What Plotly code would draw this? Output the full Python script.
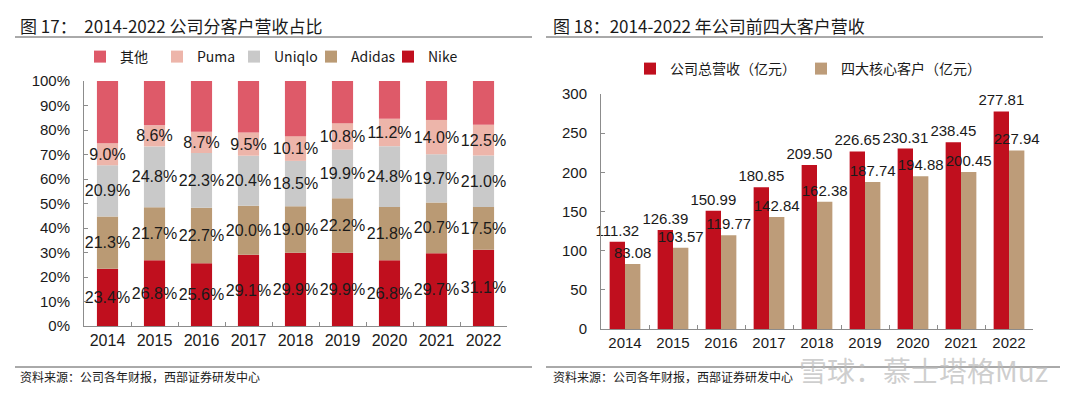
import plotly.graph_objects as go

years = ["2014", "2015", "2016", "2017", "2018", "2019", "2020", "2021", "2022"]

# Figure 17: share of revenue by customer (%)
nike = [23.4, 26.8, 25.6, 29.1, 29.9, 29.9, 26.8, 29.7, 31.1]
adidas = [21.3, 21.7, 22.7, 20.0, 19.0, 22.2, 21.8, 20.7, 17.5]
uniqlo = [20.9, 24.8, 22.3, 20.4, 18.5, 19.9, 24.8, 19.7, 21.0]
puma = [9.0, 8.6, 8.7, 9.5, 10.1, 10.8, 11.2, 14.0, 12.5]
others = [25.4, 18.1, 20.7, 21.0, 22.5, 17.2, 15.4, 15.9, 17.9]

# Figure 18: revenue (100m CNY)
total_rev = [111.32, 126.39, 150.99, 180.85, 209.50, 226.65, 230.31, 238.45, 277.81]
top4_rev = [83.08, 103.57, 119.77, 142.84, 162.38, 187.74, 194.88, 200.45, 227.94]

C_NIKE = "#C00F1E"
C_ADIDAS = "#BA9A74"
C_UNIQLO = "#C9C9C9"
C_PUMA = "#EDB5AA"
C_OTHER = "#DE5A69"
C_TOP4 = "#BD9C79"

FONT = "Liberation Sans, Arial, Noto Sans CJK SC, sans-serif"
CJK = "Noto Sans CJK SC, Liberation Sans, sans-serif"

fig = go.Figure()

series = [
    ("Nike", nike, C_NIKE, True),
    ("Adidas", adidas, C_ADIDAS, True),
    ("Uniqlo", uniqlo, C_UNIQLO, True),
    ("Puma", puma, C_PUMA, True),
    ("其他", others, C_OTHER, False),
]
base = [0.0] * len(years)
for name, vals, col, lab in series:
    fig.add_trace(go.Bar(
        x=years, y=vals, base=list(base), name=name,
        marker=dict(color=col, line=dict(width=0)),
        width=0.45,
        text=[f"{v:.1f}%" for v in vals] if lab else None,
        textposition="inside" if lab else "none",
        insidetextanchor="middle",
        textangle=0,
        constraintext="none",
        insidetextfont=dict(size=16, color="#1a1a1a", family=FONT),
        cliponaxis=False,
        xaxis="x", yaxis="y", legend="legend",
        hoverinfo="skip",
    ))
    base = [b + v for b, v in zip(base, vals)]

fig.add_trace(go.Bar(
    x=years, y=total_rev, name="公司总营收（亿元）",
    marker=dict(color=C_NIKE, line=dict(width=0)),
    width=0.32, offset=-0.32,
    text=[f"{v:.2f}" for v in total_rev], textposition="outside",
    textangle=0, constraintext="none", cliponaxis=False,
    outsidetextfont=dict(size=15, color="#1a1a1a", family=FONT),
    xaxis="x2", yaxis="y2", legend="legend2", hoverinfo="skip",
))
fig.add_trace(go.Bar(
    x=years, y=top4_rev, name="四大核心客户（亿元）",
    marker=dict(color=C_TOP4, line=dict(width=0)),
    width=0.32, offset=0.0,
    text=[f"{v:.2f}" for v in top4_rev], textposition="outside",
    textangle=0, constraintext="none", cliponaxis=False,
    outsidetextfont=dict(size=15, color="#1a1a1a", family=FONT),
    xaxis="x2", yaxis="y2", legend="legend2", hoverinfo="skip",
))

W, H = 1080, 399


def px(x):
    return x / W


def py(y):
    return (H - y) / H


axis_common = dict(showgrid=False, zeroline=False, showline=True,
                   linecolor="#8c8c8c", linewidth=1, ticks="inside",
                   tickcolor="#8c8c8c", ticklen=4, automargin=False)

fig.update_layout(
    width=W, height=H,
    autosize=False,
    margin=dict(l=0, r=0, t=0, b=0, pad=0, autoexpand=False),
    paper_bgcolor="white", plot_bgcolor="white",
    barmode="overlay",
    font=dict(family=FONT, color="#1a1a1a"),
    showlegend=True,
    xaxis=dict(domain=[px(84), px(507)], anchor="y", type="category",
               tickson="boundaries", tickfont=dict(size=16),
               **axis_common),
    yaxis=dict(domain=[py(326), py(81)], anchor="x", range=[0, 100],
               dtick=10, ticksuffix="%", tickfont=dict(size=15),
               ticklabelstandoff=10, **axis_common),
    xaxis2=dict(domain=[px(601), px(1033)], anchor="y2", type="category",
                tickson="boundaries", tickfont=dict(size=15),
                **axis_common),
    yaxis2=dict(domain=[py(329), py(94)], anchor="x2", range=[0, 300],
                dtick=50, tickfont=dict(size=15), ticklabelstandoff=10,
                **axis_common),
    legend=dict(orientation="h", x=px(80), y=py(57), xanchor="left",
                yanchor="middle", traceorder="reversed",
                font=dict(size=14, family=CJK), itemwidth=30,
                entrywidth=32,
                bgcolor="rgba(0,0,0,0)"),
    legend2=dict(orientation="h", x=px(630), y=py(69), xanchor="left",
                 yanchor="middle", traceorder="normal",
                 font=dict(size=14, family=CJK), itemwidth=30,
                 bgcolor="rgba(0,0,0,0)"),
)

# Titles
fig.add_annotation(text="图 17：  2014-2022 公司分客户营收占比", x=px(18), y=py(25),
                   xref="paper", yref="paper", xanchor="left", yanchor="middle",
                   showarrow=False, font=dict(size=17, family=CJK, color="#1a1a1a"))
fig.add_annotation(text="图 18：2014-2022 年公司前四大客户营收", x=px(551), y=py(25),
                   xref="paper", yref="paper", xanchor="left", yanchor="middle",
                   showarrow=False, font=dict(size=17, family=CJK, color="#1a1a1a"))
# Sources
for xs in (18, 551):
    fig.add_annotation(text="资料来源：公司各年财报，西部证券研发中心", x=px(xs), y=py(376),
                       xref="paper", yref="paper", xanchor="left", yanchor="middle",
                       showarrow=False, font=dict(size=12, family=CJK, color="#1a1a1a"))
# Watermark
fig.add_annotation(text="雪球：慕士塔格Muz", x=px(1050), y=py(370),
                   xref="paper", yref="paper", xanchor="right", yanchor="middle",
                   showarrow=False, font=dict(size=28, family=CJK, color="rgba(185,185,185,0.7)"))

# Separator lines
for x0, x1 in ((15, 532), (546, 1043)):
    fig.add_shape(type="line", xref="paper", yref="paper", x0=px(x0), x1=px(x1),
                  y0=py(37), y1=py(37), line=dict(color="#555555", width=1))
for x0, x1 in ((15, 532), (546, 1060)):
    fig.add_shape(type="line", xref="paper", yref="paper", x0=px(x0), x1=px(x1),
                  y0=py(367), y1=py(367), line=dict(color="#555555", width=1))

fig.write_html(
    "out.html",
    config={"displayModeBar": False, "staticPlot": True},
    post_script="document.body.style.margin='0';document.body.style.overflow='hidden';",
)
